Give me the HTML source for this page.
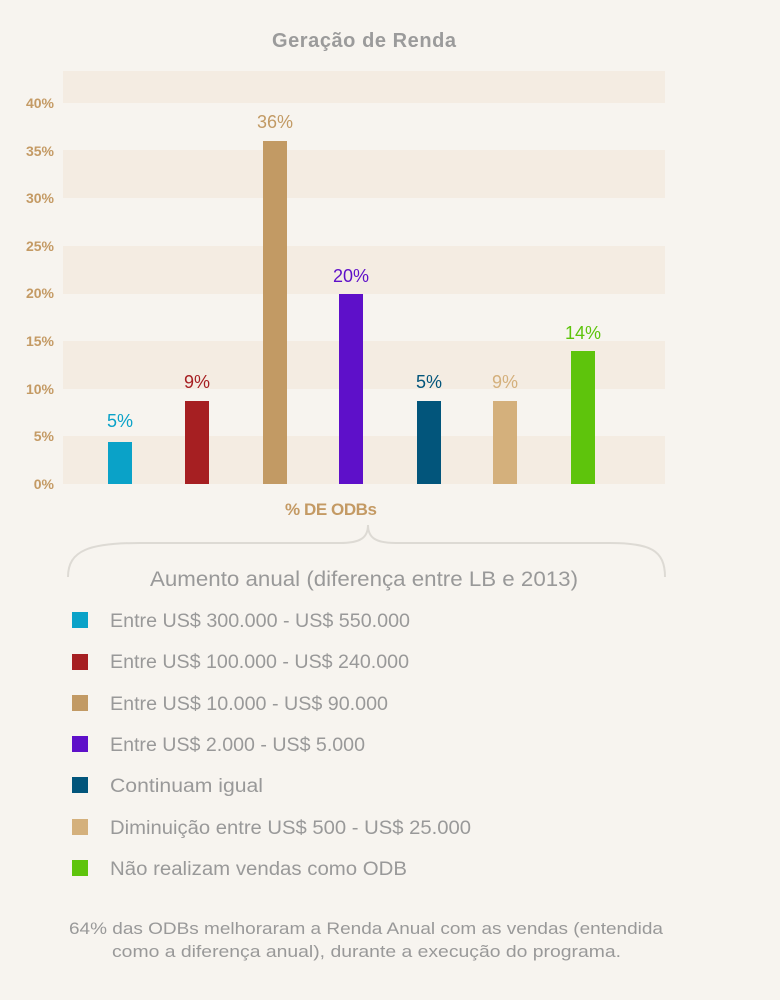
<!DOCTYPE html>
<html><head><meta charset="utf-8"><style>
body{margin:0;background:#f7f4ef;font-family:"Liberation Sans",sans-serif;}
</style></head><body>
<svg width="780" height="1000" xmlns="http://www.w3.org/2000/svg" style="display:block">
<rect width="780" height="1000" fill="#f7f4ef"/>
<text x="364" y="47" text-anchor="middle" font-size="20" font-weight="bold" fill="#9b9b9b" font-family="Liberation Sans" textLength="184">Geração de Renda</text>
<g fill="#f4ece2">
<rect x="63" y="71" width="602" height="32"/>
<rect x="63" y="150" width="602" height="48"/>
<rect x="63" y="246" width="602" height="48"/>
<rect x="63" y="341" width="602" height="48"/>
<rect x="63" y="436" width="602" height="48"/>
</g>
<g font-size="14" font-weight="bold" fill="#c49a64" text-anchor="end" font-family="Liberation Sans">
<text x="54" y="108">40%</text><text x="54" y="156">35%</text><text x="54" y="203">30%</text>
<text x="54" y="251">25%</text><text x="54" y="298">20%</text><text x="54" y="346">15%</text>
<text x="54" y="394">10%</text><text x="54" y="441">5%</text><text x="54" y="489">0%</text>
</g>
<rect x="108" y="442" width="24" height="42" fill="#0aa2c8"/>
<rect x="185" y="401" width="24" height="83" fill="#a61f22"/>
<rect x="263" y="141" width="24" height="343" fill="#c29a64"/>
<rect x="339" y="294" width="24" height="190" fill="#5e10c9"/>
<rect x="417" y="401" width="24" height="83" fill="#02557b"/>
<rect x="493" y="401" width="24" height="83" fill="#d4b07c"/>
<rect x="571" y="351" width="24" height="133" fill="#5ec40c"/>
<g font-size="18" text-anchor="middle" font-family="Liberation Sans">
<text x="120" y="427" fill="#0aa2c8">5%</text>
<text x="197" y="388" fill="#a61f22">9%</text>
<text x="275" y="128" fill="#c29a64">36%</text>
<text x="351" y="282" fill="#5e10c9">20%</text>
<text x="429" y="388" fill="#02557b">5%</text>
<text x="505" y="388" fill="#d4b07c">9%</text>
<text x="583" y="339" fill="#5ec40c">14%</text>
</g>
<text x="331" y="515" text-anchor="middle" font-size="17" font-weight="bold" fill="#c49a64" textLength="92">% DE ODBs</text>
<path d="M68,577 C68,550 90,543 140,543 L340,543 C360,543 368,538 368,525 C368,538 376,543 396,543 L610,543 C650,543 665,550 665,577" fill="none" stroke="#dddad4" stroke-width="2"/>
<text x="150" y="586" font-size="21" fill="#999" textLength="428" lengthAdjust="spacingAndGlyphs">Aumento anual (diferença entre LB e 2013)</text>
<g font-size="19" fill="#999">
<rect x="72" y="612" width="16" height="16" fill="#0aa2c8"/><text x="110" y="627" textLength="300" lengthAdjust="spacingAndGlyphs">Entre US$ 300.000 - US$ 550.000</text>
<rect x="72" y="654" width="16" height="16" fill="#a61f22"/><text x="110" y="668" textLength="299" lengthAdjust="spacingAndGlyphs">Entre US$ 100.000 - US$ 240.000</text>
<rect x="72" y="695" width="16" height="16" fill="#c29a64"/><text x="110" y="710" textLength="278" lengthAdjust="spacingAndGlyphs">Entre US$ 10.000 - US$ 90.000</text>
<rect x="72" y="736" width="16" height="16" fill="#5e10c9"/><text x="110" y="751" textLength="255" lengthAdjust="spacingAndGlyphs">Entre US$ 2.000 - US$ 5.000</text>
<rect x="72" y="777" width="16" height="16" fill="#02557b"/><text x="110" y="792" textLength="153" lengthAdjust="spacingAndGlyphs">Continuam igual</text>
<rect x="72" y="819" width="16" height="16" fill="#d4b07c"/><text x="110" y="834" textLength="361" lengthAdjust="spacingAndGlyphs">Diminuição entre US$ 500 - US$ 25.000</text>
<rect x="72" y="860" width="16" height="16" fill="#5ec40c"/><text x="110" y="875" textLength="297" lengthAdjust="spacingAndGlyphs">Não realizam vendas como ODB</text>
</g>
<g font-size="17" fill="#999">
<text x="69" y="934" textLength="594" lengthAdjust="spacingAndGlyphs">64% das ODBs melhoraram a Renda Anual com as vendas (entendida</text>
<text x="112" y="957" textLength="509" lengthAdjust="spacingAndGlyphs">como a diferença anual), durante a execução do programa.</text>
</g>
</svg>
</body></html>
